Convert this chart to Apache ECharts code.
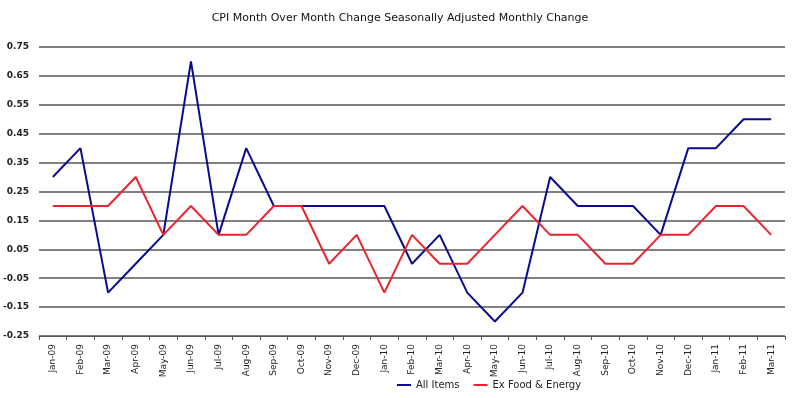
<!DOCTYPE html>
<html><head><meta charset="utf-8">
<script src="https://cdn.jsdelivr.net/npm/echarts@6/dist/echarts.min.js"></script>
<style>html,body{margin:0;padding:0;background:#fff}#c{width:800px;height:398px}</style>
</head><body><div id="c"></div>
<script>
const categories = ["Jan-09","Feb-09","Mar-09","Apr-09","May-09","Jun-09","Jul-09","Aug-09","Sep-09","Oct-09","Nov-09","Dec-09","Jan-10","Feb-10","Mar-10","Apr-10","May-10","Jun-10","Jul-10","Aug-10","Sep-10","Oct-10","Nov-10","Dec-10","Jan-11","Feb-11","Mar-11"];
const allItems = [0.3,0.4,-0.1,0.0,0.1,0.7,0.1,0.4,0.2,0.2,0.2,0.2,0.2,0.0,0.1,-0.1,-0.2,-0.1,0.3,0.2,0.2,0.2,0.1,0.4,0.4,0.5,0.5];
const exFoodEnergy = [0.2,0.2,0.2,0.3,0.1,0.2,0.1,0.1,0.2,0.2,0.0,0.1,-0.1,0.1,0.0,0.0,0.1,0.2,0.1,0.1,0.0,0.0,0.1,0.1,0.2,0.2,0.1];
const yTicks = [-0.25,-0.15,-0.05,0.05,0.15,0.25,0.35,0.45,0.55,0.65,0.75];

const chart = echarts.init(document.getElementById('c'));
const font = 'DejaVu Sans, Verdana, sans-serif';
chart.setOption({
  animation:false,
  title:{text:'CPI Month Over Month Change Seasonally Adjusted Monthly Change',left:'center',top:8,
    textStyle:{fontFamily:font,fontSize:11,fontWeight:'normal',color:'#111'}},
  grid:{left:39,right:15,top:47,bottom:62,containLabel:false},
  legend:{bottom:3,left:392,itemWidth:14,itemHeight:2,itemGap:14,icon:'rect',
    textStyle:{fontFamily:font,fontSize:10,color:'#222'},
    data:['All Items','Ex Food & Energy']},
  xAxis:{type:'category',data:categories,boundaryGap:true,
    axisLine:{onZero:false,lineStyle:{color:'#555',width:1}},
    axisTick:{show:true,length:4,lineStyle:{color:'#555'}},
    axisLabel:{rotate:90,fontFamily:font,fontSize:9,color:'#222',margin:8,interval:0}},
  yAxis:{type:'value',min:yTicks[0],max:yTicks[yTicks.length-1],interval:0.1,
    axisLine:{show:false},axisTick:{show:false},
    splitLine:{lineStyle:{color:'#808080',width:2}},
    axisLabel:{fontFamily:font,fontSize:9,fontWeight:'bold',color:'#222',margin:10,align:'right',
      formatter:v=>v.toFixed(2)}},
  series:[
    {name:'All Items',type:'line',data:allItems,symbol:'none',
      lineStyle:{color:'#0a0a90',width:2},itemStyle:{color:'#0a0a90'}},
    {name:'Ex Food & Energy',type:'line',data:exFoodEnergy,symbol:'none',
      lineStyle:{color:'#e8252e',width:2},itemStyle:{color:'#e8252e'}}
  ]
});
</script></body></html>
